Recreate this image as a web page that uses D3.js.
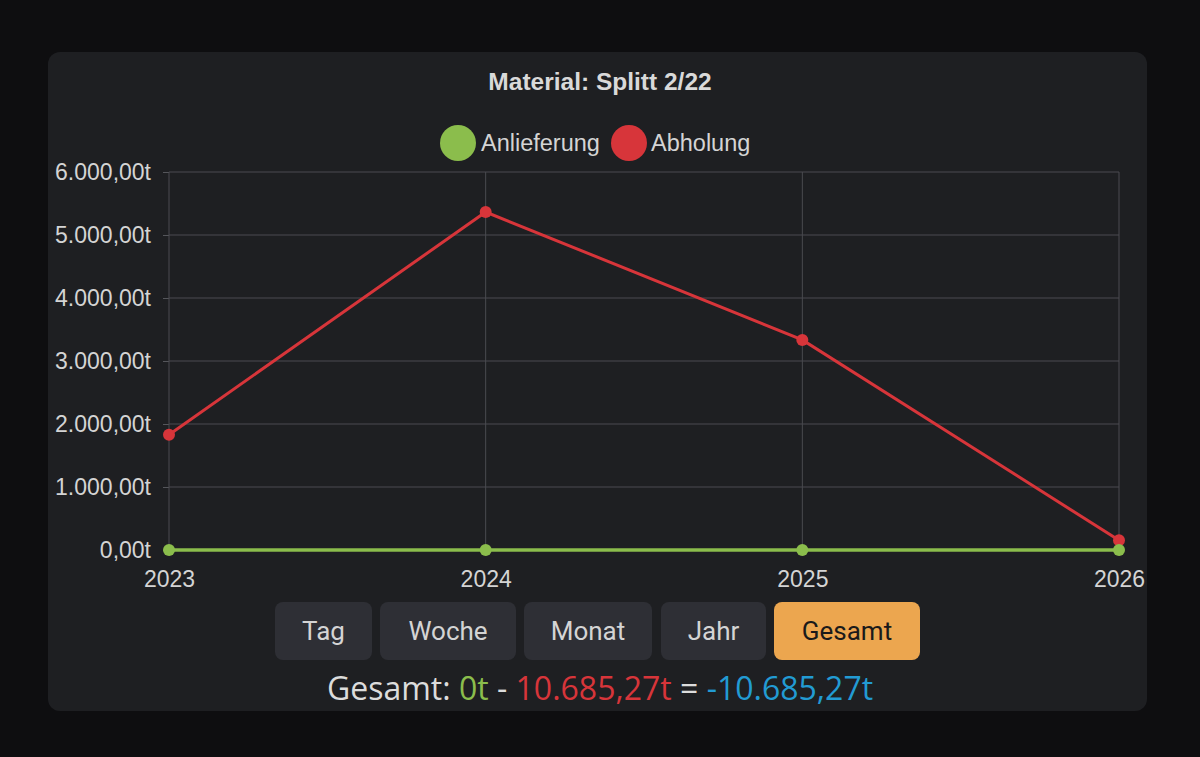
<!DOCTYPE html>
<html><head><meta charset="utf-8">
<script src="https://cdn.jsdelivr.net/npm/d3@7"></script>
<style>
html,body{margin:0;padding:0;background:#0e0e10;}
svg{display:block;}
</style></head>
<body>
<svg id="c" width="1200" height="757"></svg>
<script>
const categories = ["2023","2024","2025","2026"];
const anlieferung = [0,0,0,0];
const abholung = [1830,5365,3335,155];
const yTicks = [0,1000,2000,3000,4000,5000,6000];
const buttons = ["Tag","Woche","Monat","Jahr","Gesamt"];
const title = "Material: Splitt 2/22";
const seriesNames = ["Anlieferung","Abholung"];
const colors = ["#8bbd4c","#d7353a"];
const totalParts = [
  {t:"Gesamt: ", c:"#dcdcdc"},
  {t:"0t", c:"#8bbd4c"},
  {t:" - ", c:"#dcdcdc"},
  {t:"10.685,27t", c:"#d7353a"},
  {t:" = ", c:"#dcdcdc"},
  {t:"-10.685,27t", c:"#229bd3"}
];

const svg = d3.select("#c");
svg.append("rect").attr("width",1200).attr("height",757).attr("fill","#0e0e10");
svg.append("rect").attr("x",48).attr("y",52).attr("width",1099).attr("height",659).attr("rx",12).attr("fill","#1e1f22");

svg.append("text").attr("x",600).attr("y",90).attr("text-anchor","middle")
  .attr("font-family","Liberation Sans, Arial").attr("font-weight","bold").attr("font-size",24.5)
  .attr("fill","#d9d9d9").text(title);

// legend
const leg = [{x:458,tx:481},{x:629,tx:651}];
seriesNames.forEach((n,i)=>{
  svg.append("circle").attr("cx",leg[i].x).attr("cy",143).attr("r",18).attr("fill",colors[i]);
  svg.append("text").attr("x",leg[i].tx).attr("y",151).attr("font-family","Liberation Sans, Arial")
    .attr("font-size",23.5).attr("fill","#d4d4d4").text(n);
});

const x = d3.scalePoint().domain(categories).range([169,1119]);
const y = d3.scaleLinear().domain([0,6000]).range([550,172]);
const fmt = v => d3.format(",.2f")(v).replace(/,/g,"X").replace(/\./g,",").replace(/X/g,".")+"t";

const yAxis = svg.append("g").attr("transform","translate(169,0)")
  .call(d3.axisLeft(y).tickValues(yTicks).tickSize(6).tickSizeOuter(0).tickPadding(12).tickFormat(fmt));
yAxis.select(".domain").remove();
yAxis.selectAll(".tick line").attr("stroke","#55565b");
yAxis.selectAll("text").attr("fill","#d4d4d4").attr("font-size",23).attr("font-family","Liberation Sans, Arial");

// horizontal grid
svg.append("g").selectAll("line").data(yTicks).join("line")
  .attr("x1",169).attr("x2",1119).attr("y1",d=>y(d)).attr("y2",d=>y(d))
  .attr("stroke","#4a4b50").attr("stroke-width",1);

const xAxis = svg.append("g").attr("transform","translate(0,550)")
  .call(d3.axisBottom(x).tickSize(6).tickPadding(15));
xAxis.select(".domain").remove();
xAxis.selectAll(".tick line").attr("stroke","#55565b");
xAxis.selectAll("text").attr("fill","#d4d4d4").attr("font-size",23).attr("font-family","Liberation Sans, Arial");

// vertical grid
svg.append("g").selectAll("line").data(categories).join("line")
  .attr("x1",d=>x(d)).attr("x2",d=>x(d)).attr("y1",172).attr("y2",550)
  .attr("stroke","#4a4b50").attr("stroke-width",1);

const line = d3.line().x((d,i)=>x(categories[i])).y(d=>y(d));
[abholung, anlieferung].forEach((s,k)=>{
  const col = k===0?colors[1]:colors[0];
  svg.append("path").datum(s).attr("d",line).attr("fill","none").attr("stroke",col).attr("stroke-width",k===0?3:3.5);
  svg.append("g").selectAll("circle").data(s).join("circle")
    .attr("cx",(d,i)=>x(categories[i])).attr("cy",d=>y(d)).attr("r",6).attr("fill",col);
});

// buttons
const btnX = [275,380,524,661,774];
const btnW = [97,136,128,105,146];
buttons.forEach((b,i)=>{
  const active = b==="Gesamt";
  svg.append("rect").attr("x",btnX[i]).attr("y",602).attr("width",btnW[i]).attr("height",58).attr("rx",8)
    .attr("fill",active?"#eca64f":"#2e2f35");
  svg.append("text").attr("x",btnX[i]+btnW[i]/2).attr("y",640).attr("text-anchor","middle")
    .attr("font-family","Roboto, Liberation Sans").attr("font-size",26)
    .attr("fill",active?"#1a1a1a":"#d4d4d4").text(b);
});

const tt = svg.append("text").attr("x",600).attr("y",700).attr("text-anchor","middle")
  .attr("font-family","Open Sans, Noto Sans").attr("font-size",32);
totalParts.forEach(p=>tt.append("tspan").attr("fill",p.c).attr("xml:space","preserve").text(p.t));
</script>
</body></html>
